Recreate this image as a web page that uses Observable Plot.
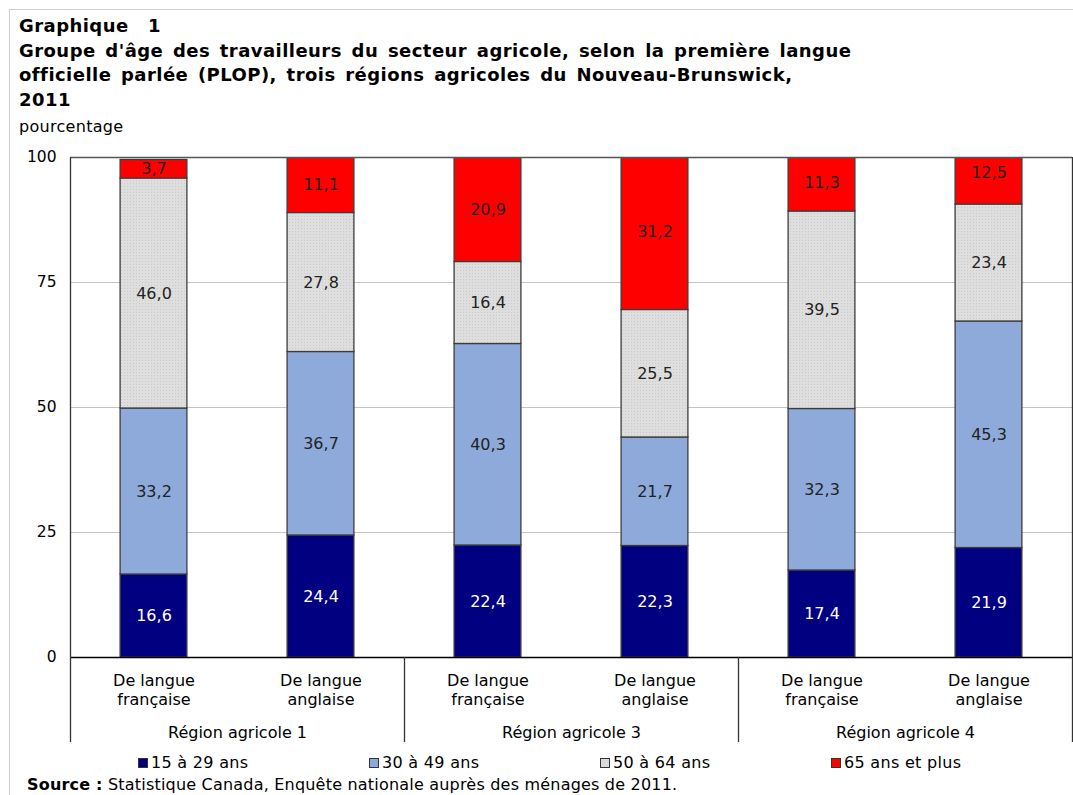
<!DOCTYPE html>
<html><head><meta charset="utf-8">
<script src="https://cdn.jsdelivr.net/npm/d3@7"></script>
<script src="https://cdn.jsdelivr.net/npm/@observablehq/plot@0.6"></script>
<style>
body{margin:0;background:#fff;font-family:"DejaVu Sans",Verdana,sans-serif;color:#000;}
#wrap{position:relative;width:1073px;height:795px;overflow:hidden;}
#border{position:absolute;left:9px;top:9px;width:1100px;height:900px;border:1px solid #cfcfcf;}
#title{position:absolute;left:19px;top:14px;font-weight:bold;font-size:18px;letter-spacing:0.45px;line-height:24.5px;word-spacing:3px;}
#unit{position:absolute;left:19px;top:117px;font-size:16px;letter-spacing:0.3px;}
#chart{position:absolute;left:0;top:140px;}
#legend{position:absolute;left:138px;top:753px;display:flex;font-size:16px;letter-spacing:0.3px;}
#legend .item{width:231px;display:flex;align-items:center;}
#legend .sw{width:8px;height:8px;border:1px solid #333;margin-right:3px;}
#source{position:absolute;left:27px;top:775px;font-size:16px;line-height:19px;letter-spacing:0.2px;}
</style></head>
<body>
<div id="wrap">
<div id="border"></div>
<div id="title">Graphique&nbsp; 1<br>Groupe d'âge des travailleurs du secteur agricole, selon la première langue<br>officielle parlée (PLOP), trois régions agricoles du Nouveau-Brunswick,<br>2011</div>
<div id="unit">pourcentage</div>
<div id="chart"></div>
<div id="legend"></div>
<div id="source"><b>Source&nbsp;:</b> Statistique Canada, Enquête nationale auprès des ménages de 2011.</div>
</div>
<script>
const regions = ["Région agricole 1", "Région agricole 3", "Région agricole 4"];
const languages = ["De langue\nfrançaise", "De langue\nanglaise"];
const ages = ["15 à 29 ans", "30 à 49 ans", "50 à 64 ans", "65 ans et plus"];
const v15_29 = [16.6, 24.4, 22.4, 22.3, 17.4, 21.9];
const v30_49 = [33.2, 36.7, 40.3, 21.7, 32.3, 45.3];
const v50_64 = [46.0, 27.8, 16.4, 25.5, 39.5, 23.4];
const v65plus = [3.7, 11.1, 20.9, 31.2, 11.3, 12.5];
const yTicks = [0, 25, 50, 75, 100];
const colors = ["#000080", "#8eaadb", "url(#dots)", "#ff0000"];
const legendColors = ["#000080", "#8eaadb", "#d9d9d9", "#ff0000"];
const labelColors = ["#ffffff", "#222222", "#222222", "#222222"];

const series = [v15_29, v30_49, v50_64, v65plus];
const bars = d3.range(6).map(i => ({i, region: regions[Math.floor(i / 2)], lang: languages[i % 2]}));
const rows = [];
bars.forEach(b => {
  let base = 0;
  series.forEach((s, k) => {
    rows.push({i: b.i, age: ages[k], k, value: s[b.i], y1: base, y2: base + s[b.i]});
    base += s[b.i];
  });
});
const fmt = v => v.toFixed(1).replace(".", ",");

const chart = Plot.plot({
  width: 1073, height: 607,
  marginTop: 17, marginBottom: 90, marginLeft: 70, marginRight: 1,
  x: {domain: [0, 6], axis: null},
  y: {domain: [0, 100], axis: null},
  color: {domain: ages, range: colors},
  style: {fontFamily: "DejaVu Sans, Verdana, sans-serif", fontSize: "16px", color: "#000", background: "transparent"},
  marks: [
    Plot.gridY(yTicks, {stroke: "#c4c4c4", strokeOpacity: 1, strokeWidth: 1.2}),
    Plot.axisY(yTicks, {tickSize: 0, tickPadding: 14, fontSize: 15.5, tickFormat: d => d, label: null}),
    Plot.rect(rows, {x1: d => d.i + 0.3, x2: d => d.i + 0.7, y1: "y1", y2: "y2", fill: "age", stroke: "#3c3c3c", strokeWidth: 1.3, clip: true}),
    Plot.ruleY([100], {stroke: "#555", strokeWidth: 1.3}),
    Plot.ruleY([0], {stroke: "#000", strokeWidth: 1.3}),
    Plot.ruleX([0, 6], {y1: 100, y2: 0, insetBottom: -85, stroke: "#333", strokeWidth: 1.3}),
    Plot.ruleX([2, 4], {y1: 0, y2: 0, insetBottom: -85, stroke: "#333", strokeWidth: 1.3}),
    Plot.text(rows, {x: d => d.i + 0.5, y: d => (d.y1 + d.y2) / 2, text: d => fmt(d.value), fill: d => labelColors[d.k], fontSize: 16}),
    Plot.text(bars, {x: d => d.i + 0.5, frameAnchor: "bottom", text: "lang", lineAnchor: "top", dy: 15, lineHeight: 1.2, fontSize: 16}),
    Plot.text(regions, {x: (d, i) => 2 * i + 1, frameAnchor: "bottom", text: d => d, lineAnchor: "middle", dy: 75, fontSize: 16})
  ]
});
const svg = d3.select(chart);
const pat = svg.insert("defs", ":first-child").append("pattern")
  .attr("id", "dots").attr("width", 3).attr("height", 3).attr("patternUnits", "userSpaceOnUse");
pat.append("rect").attr("width", 3).attr("height", 3).attr("fill", "#dedede");
pat.append("rect").attr("x", 1).attr("y", 1).attr("width", 1).attr("height", 1).attr("fill", "#cacaca");
document.getElementById("chart").appendChild(chart);

const legend = d3.select("#legend");
ages.forEach((a, k) => {
  const it = legend.append("div").attr("class", "item");
  it.append("div").attr("class", "sw").style("background", legendColors[k]);
  it.append("span").text(a);
});
</script>
</body></html>
